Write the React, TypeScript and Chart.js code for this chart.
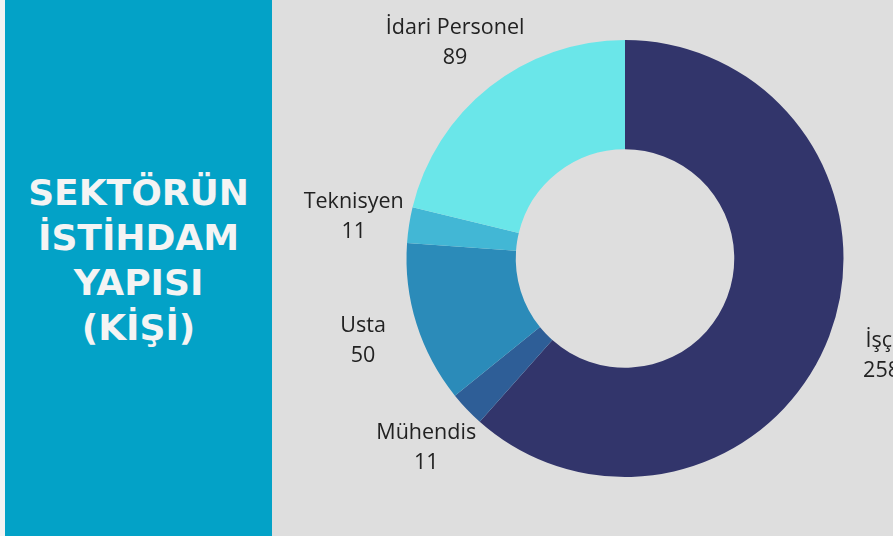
import React, { useEffect, useRef } from "react";
import { Chart, registerables } from "chart.js";

Chart.register(...registerables);

const categories = ["İşçi", "Mühendis", "Usta", "Teknisyen", "İdari Personel"];
const values = [258, 11, 50, 11, 89];
const colors = ["#32356b", "#2e5e97", "#2b8bb9", "#42b7d5", "#6ae6e9"];
const titleLines = ["SEKTÖRÜN", "İSTİHDAM", "YAPISI", "(KİŞİ)"];

const labelPlugin = {
  id: "sliceLabels",
  afterDraw(chart: any) {
    const ctx = chart.ctx;
    const meta = chart.getDatasetMeta(0);
    ctx.save();
    ctx.font = '21.5px "Open Sans"';
    ctx.fillStyle = "#222222";
    ctx.textAlign = "center";
    ctx.textBaseline = "middle";
    meta.data.forEach((arc: any, i: number) => {
      const p = arc.getProps(["x", "y", "startAngle", "endAngle", "outerRadius"], true);
      const mid = (p.startAngle + p.endAngle) / 2;
      const d = p.outerRadius + 56;
      const x = p.x + Math.cos(mid) * d;
      const y = p.y + Math.sin(mid) * d;
      ctx.fillText(categories[i], x, y - 15);
      ctx.fillText(String(values[i]), x, y + 15);
    });
    ctx.restore();
  },
};

export default function App() {
  const ref = useRef<HTMLCanvasElement | null>(null);
  useEffect(() => {
    if (!ref.current) return;
    const chart = new Chart(ref.current, {
      type: "doughnut",
      data: {
        labels: categories,
        datasets: [
          {
            data: values,
            backgroundColor: colors,
            borderWidth: 0,
          },
        ],
      },
      options: {
        animation: false,
        responsive: false,
        cutout: "50%",
        layout: { padding: { left: 130, right: 45, top: 40, bottom: 59 } },
        plugins: { legend: { display: false }, tooltip: { enabled: false } },
      },
      plugins: [labelPlugin],
    });
    return () => chart.destroy();
  }, []);

  return (
    <div
      style={{
        position: "fixed",
        left: 0,
        top: 0,
        width: 893,
        height: 536,
        background: "#dedede",
        overflow: "hidden",
      }}
    >
      <div style={{ position: "absolute", left: 0, top: 0, width: 5, height: 536, background: "#f3f3f3" }} />
      <div
        style={{
          position: "absolute",
          left: 5,
          top: 0,
          width: 267,
          height: 536,
          background: "#03a2c7",
        }}
      >
        <div
          style={{
            position: "absolute",
            left: 0,
            top: 170,
            width: 267,
            textAlign: "center",
            color: "#f4f4f4",
            fontFamily: '"DejaVu Sans", sans-serif',
            fontWeight: 700,
            fontSize: 36,
            lineHeight: "45px",
          }}
        >
          {titleLines.map((t) => (
            <div key={t}>{t}</div>
          ))}
        </div>
      </div>
      <canvas
        ref={ref}
        width={621}
        height={536}
        style={{ position: "absolute", left: 272, top: 0, width: 621, height: 536 }}
      />
    </div>
  );
}
